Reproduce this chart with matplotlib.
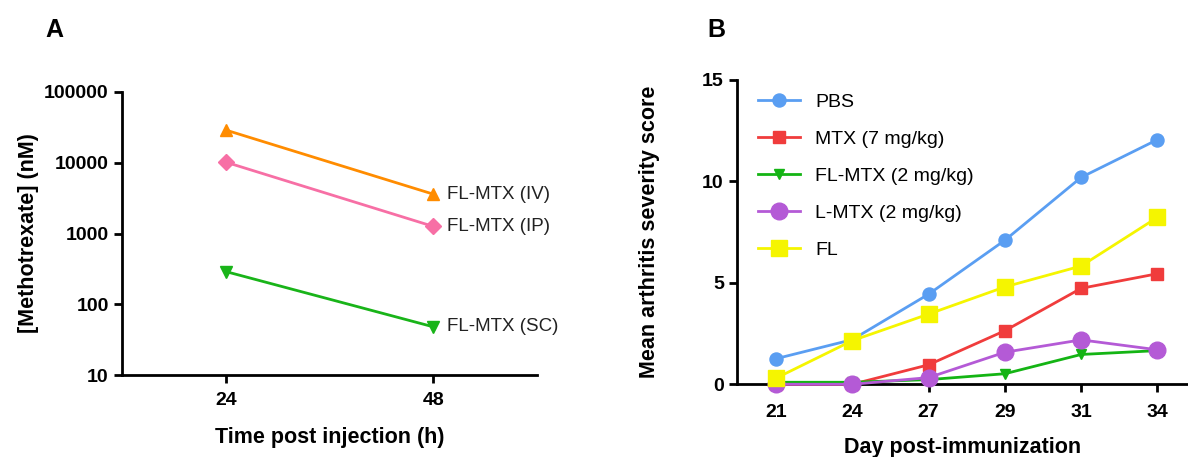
import matplotlib
matplotlib.use("Agg")
import matplotlib.pyplot as plt
import numpy as np

# ---- Panel A data ----
time_h = [24, 48]
iv_vals = [29000, 3600]
ip_vals = [10200, 1260]
sc_vals = [290, 48]
a_labels = ["FL-MTX (IV)", "FL-MTX (IP)", "FL-MTX (SC)"]
a_yticks = [10, 100, 1000, 10000, 100000]

# ---- Panel B data ----
days = ["21", "24", "27", "29", "31", "34"]
pbs = [1.26, 2.2, 4.44, 7.1, 10.2, 12.06]
mtx = [0.0, 0.0, 0.96, 2.64, 4.73, 5.45]
flmtx = [0.1, 0.1, 0.23, 0.52, 1.47, 1.66]
lmtx = [0.0, 0.0, 0.33, 1.58, 2.19, 1.7]
fl = [0.3, 2.15, 3.46, 4.8, 5.83, 8.23]
b_labels = ["PBS", "MTX (7 mg/kg)", "FL-MTX (2 mg/kg)", "L-MTX (2 mg/kg)", "FL"]

BOLD = ["Liberation Sans", "DejaVu Sans"]
REG = ["Liberation Sans", "DejaVu Sans"]

fig = plt.figure(figsize=(11.88, 4.57), dpi=100)

# ---------- Panel A ----------
axA = fig.add_axes([0.1027, 0.1794, 0.3493, 0.6193])
c_iv, c_ip, c_sc = "#FF8C00", "#F76FA5", "#19B419"
axA.plot(time_h, iv_vals, color=c_iv, marker="^", ms=9, lw=2, clip_on=False)
axA.plot(time_h, ip_vals, color=c_ip, marker="D", ms=8, lw=2, clip_on=False)
axA.plot(time_h, sc_vals, color=c_sc, marker="v", ms=9, lw=2, clip_on=False)
axA.set_yscale("log")
axA.set_ylim(10, 100000)
axA.set_xlim(12, 60)
axA.set_xticks(time_h)
axA.set_xticklabels([str(t) for t in time_h])
axA.set_yticks(a_yticks)
axA.set_yticklabels([str(v) for v in a_yticks])
axA.yaxis.set_minor_locator(matplotlib.ticker.NullLocator())
for vals, lab in zip([iv_vals, ip_vals, sc_vals], a_labels):
    axA.annotate(lab, (time_h[1], vals[1]), xytext=(10, 0), textcoords="offset points",
                 va="center", ha="left", fontsize=13.5, family=REG, color="#222222")
axA.set_xlabel("Time post injection (h)", fontsize=15.5, fontweight="bold", family=BOLD, labelpad=13)
axA.set_ylabel("[Methotrexate] (nM)", fontsize=15.5, fontweight="bold", family=BOLD, labelpad=4)
fig.text(0.046, 0.935, "A", fontsize=18, fontweight="bold", family=BOLD, ha="center", va="center")

# ---------- Panel B ----------
axB = fig.add_axes([0.6204, 0.1591, 0.3796, 0.6659])
x = np.arange(len(days))
axB.plot(x, pbs, color="#5A9EF2", marker="o", ms=9.4, lw=2, clip_on=False, label=b_labels[0], zorder=3)
axB.plot(x, mtx, color="#F03C3C", marker="s", ms=8.6, lw=2, clip_on=False, label=b_labels[1], zorder=3)
axB.plot(x, flmtx, color="#14B414", marker="v", ms=7.5, lw=2, clip_on=False, label=b_labels[2], zorder=3)
axB.plot(x, lmtx, color="#B45AD6", marker="o", ms=12, lw=2, clip_on=False, label=b_labels[3], zorder=3)
axB.plot(x, fl, color="#F5F500", marker="s", ms=12, lw=2, clip_on=False, label=b_labels[4], zorder=3)
axB.set_xlim(-0.51, 5.4)
axB.set_ylim(0, 15)
axB.set_xticks(x)
axB.set_xticklabels(days)
axB.set_yticks([0, 5, 10, 15])
axB.set_xlabel("Day post-immunization", fontsize=15.5, fontweight="bold", family=BOLD, labelpad=12)
axB.set_ylabel("Mean arthritis severity score", fontsize=15.5, fontweight="bold", family=BOLD, labelpad=30)
leg = axB.legend(loc="upper left", bbox_to_anchor=(0.02, 0.995), frameon=False,
                 prop={"family": REG, "size": 14}, handlelength=2.2, labelspacing=1.0,
                 handletextpad=0.75, borderaxespad=0.2)
fig.text(0.603, 0.935, "B", fontsize=18, fontweight="bold", family=BOLD, ha="center", va="center")

for ax in (axA, axB):
    for s in ("top", "right"):
        ax.spines[s].set_visible(False)
    for s in ("left", "bottom"):
        ax.spines[s].set_linewidth(2)
    ax.tick_params(axis="both", which="major", direction="out", length=6, width=2,
                   labelsize=14)
    for lbl in ax.get_xticklabels() + ax.get_yticklabels():
        lbl.set_fontweight("bold")
        lbl.set_family(BOLD)
axA.tick_params(axis="x", pad=6)
axB.tick_params(axis="x", pad=8)

fig.savefig("out.png", dpi=100)
